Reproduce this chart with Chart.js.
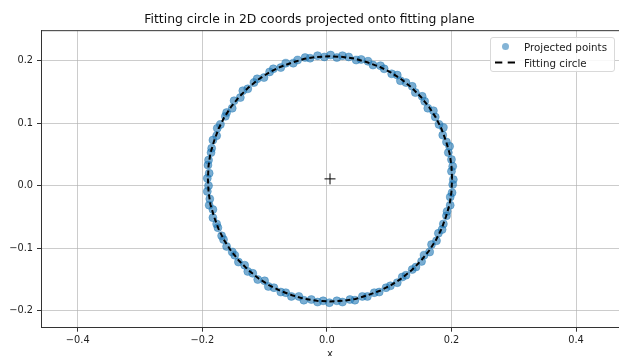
<!DOCTYPE html>
<html>
<head>
<meta charset="utf-8">
<script src="https://cdn.jsdelivr.net/npm/chart.js@4"></script>
<style>
  html, body { margin: 0; padding: 0; background: #fff; overflow: hidden; }
  #wrap { position: relative; width: 619px; height: 356px; overflow: hidden; }
  #chart { position: absolute; left: 0; top: 0; }
  .legend {
    position: absolute; left: 490px; top: 37px; width: 123px; height: 33px;
    border: 1px solid #d9d9d9; border-radius: 3px; background: rgba(255,255,255,0.85);
    font-family: "DejaVu Sans", sans-serif; font-size: 10.3px; color: #222;
  }
  .legend .dot {
    position: absolute; left: 11px; top: 5px; width: 7px; height: 7px;
    border-radius: 50%; background: rgba(31,119,180,0.55);
  }
  .legend .txt { position: absolute; left: 33px; line-height: 12px; white-space: nowrap; }
  .legend svg { position: absolute; left: 0; top: 0; }
</style>
</head>
<body>
<div id="wrap">
  <canvas id="chart" width="659" height="362"></canvas>
  <div class="legend">
    <span class="dot"></span>
    <span class="txt" style="top:3px">Projected points</span>
    <svg width="30" height="34"><line x1="4" y1="24.5" x2="24" y2="24.5" stroke="#000" stroke-width="2" stroke-dasharray="7.3 5.4"/></svg>
    <span class="txt" style="top:19px">Fitting circle</span>
  </div>
</div>
<script>
// projected points
const pointsX = [
  0.203, 0.200, 0.202, 0.200, 0.195, 0.197, 0.192, 0.186, 0.187, 0.180,
  0.174, 0.171, 0.162, 0.157, 0.153, 0.142, 0.137, 0.127, 0.118, 0.113,
  0.104, 0.092, 0.086, 0.074, 0.066, 0.055, 0.047, 0.035, 0.025, 0.016,
  0.006, -0.004, -0.015, -0.027, -0.035, -0.047, -0.054, -0.066, -0.074, -0.086,
  -0.092, -0.101, -0.112, -0.117, -0.127, -0.135, -0.139, -0.149, -0.152, -0.161,
  -0.163, -0.171, -0.176, -0.177, -0.183, -0.185, -0.186, -0.190, -0.191, -0.189,
  -0.192, -0.190, -0.192, -0.188, -0.189, -0.183, -0.183, -0.177, -0.175, -0.169,
  -0.166, -0.161, -0.152, -0.148, -0.142, -0.132, -0.127, -0.119, -0.111, -0.100,
  -0.094, -0.085, -0.074, -0.066, -0.057, -0.045, -0.037, -0.025, -0.015, -0.006,
  0.004, 0.016, 0.025, 0.037, 0.045, 0.057, 0.065, 0.076, 0.084, 0.095,
  0.102, 0.113, 0.121, 0.127, 0.137, 0.143, 0.152, 0.156, 0.165, 0.168,
  0.176, 0.179, 0.185, 0.187, 0.192, 0.193, 0.198, 0.198, 0.201, 0.202,
];
const pointsY = [
  0.010, 0.023, 0.031, 0.042, 0.053, 0.063, 0.070, 0.081, 0.093, 0.098,
  0.110, 0.120, 0.124, 0.135, 0.143, 0.149, 0.159, 0.165, 0.168, 0.177,
  0.179, 0.187, 0.192, 0.193, 0.199, 0.202, 0.201, 0.206, 0.208, 0.205,
  0.209, 0.206, 0.208, 0.204, 0.205, 0.201, 0.196, 0.196, 0.189, 0.187,
  0.182, 0.173, 0.171, 0.165, 0.155, 0.152, 0.141, 0.136, 0.124, 0.117,
  0.111, 0.098, 0.092, 0.080, 0.073, 0.060, 0.053, 0.041, 0.033, 0.020,
  0.012, 0.000, -0.009, -0.021, -0.031, -0.038, -0.051, -0.061, -0.067, -0.080,
  -0.086, -0.097, -0.106, -0.111, -0.122, -0.127, -0.137, -0.140, -0.150, -0.152,
  -0.161, -0.163, -0.170, -0.171, -0.177, -0.177, -0.183, -0.182, -0.186, -0.184,
  -0.187, -0.184, -0.186, -0.182, -0.183, -0.177, -0.177, -0.171, -0.170, -0.163,
  -0.160, -0.155, -0.146, -0.143, -0.134, -0.130, -0.121, -0.111, -0.106, -0.094,
  -0.088, -0.076, -0.070, -0.061, -0.048, -0.041, -0.031, -0.018, -0.011, 0.002,
];

// fitting circle outline
const circleX = [
  0.201, 0.200, 0.197, 0.191, 0.184, 0.175, 0.164, 0.151, 0.136, 0.120,
  0.103, 0.085, 0.066, 0.046, 0.026, 0.005, -0.016, -0.036, -0.056, -0.075,
  -0.093, -0.110, -0.126, -0.141, -0.154, -0.165, -0.174, -0.181, -0.187, -0.190,
  -0.191, -0.190, -0.187, -0.181, -0.174, -0.165, -0.154, -0.141, -0.126, -0.110,
  -0.093, -0.075, -0.056, -0.036, -0.016, 0.005, 0.026, 0.046, 0.066, 0.085,
  0.103, 0.120, 0.136, 0.151, 0.164, 0.175, 0.184, 0.191, 0.197, 0.200, 0.201,
];
const circleY = [
  0.011, 0.032, 0.052, 0.072, 0.091, 0.109, 0.126, 0.142, 0.157, 0.170,
  0.181, 0.190, 0.197, 0.203, 0.206, 0.207, 0.206, 0.203, 0.197, 0.190,
  0.181, 0.170, 0.157, 0.142, 0.126, 0.109, 0.091, 0.072, 0.052, 0.032,
  0.011, -0.010, -0.030, -0.050, -0.069, -0.087, -0.104, -0.120, -0.135, -0.148,
  -0.159, -0.168, -0.175, -0.181, -0.184, -0.185, -0.184, -0.181, -0.175, -0.168,
  -0.159, -0.148, -0.135, -0.120, -0.104, -0.087, -0.069, -0.050, -0.030, -0.010, 0.011,
];

const centerX = [0.005];
const centerY = [0.011];

const xTicks = [-0.4, -0.2, 0.0, 0.2, 0.4];
const yTicks = [-0.2, -0.1, 0.0, 0.1, 0.2];

const toPts = (xs, ys) => xs.map((x, i) => ({ x, y: ys[i] }));
const fmt = (v) => v.toFixed(1).replace("-", "\u2212");

const topSpine = {
  id: "topSpine",
  afterDraw(chart) {
    const { ctx, chartArea } = chart;
    ctx.save();
    ctx.strokeStyle = "#333";
    ctx.lineWidth = 1;
    ctx.beginPath();
    ctx.moveTo(chartArea.left, chartArea.top);
    ctx.lineTo(chartArea.right, chartArea.top);
    ctx.stroke();
    ctx.restore();
  },
};

const tickFont = { family: "DejaVu Sans", size: 9.8 };

new Chart(document.getElementById("chart"), {
  type: "scatter",
  data: {
    datasets: [
      {
        label: "Projected points",
        data: toPts(pointsX, pointsY),
        backgroundColor: "rgba(31,119,180,0.6)",
        borderColor: "rgba(31,119,180,0.4)",
        borderWidth: 1,
        pointRadius: 4,
        order: 2,
      },
      {
        type: "line",
        label: "Fitting circle",
        data: toPts(circleX, circleY),
        borderColor: "#000",
        borderWidth: 2,
        borderDash: [5, 3],
        pointRadius: 0,
        fill: false,
        tension: 0,
        order: 1,
      },
      {
        label: "center",
        data: toPts(centerX, centerY),
        pointStyle: "cross",
        pointRadius: 5.5,
        borderColor: "#000",
        borderWidth: 1,
        order: 0,
      },
    ],
  },
  options: {
    responsive: false,
    animation: false,
    events: [],
    layout: { padding: { left: 0, right: 40, top: 0, bottom: 0 } },
    plugins: {
      legend: { display: false },
      tooltip: { enabled: false },
      title: {
        display: true,
        text: "Fitting circle in 2D coords projected onto fitting plane",
        color: "#111",
        font: { family: "DejaVu Sans", size: 12.4, weight: "normal" },
        padding: { top: 12.5, bottom: 3.3 },
      },
    },
    scales: {
      x: {
        type: "linear",
        min: -0.459,
        max: 0.469,
        afterBuildTicks: (s) => { s.ticks = xTicks.map((v) => ({ value: v })); },
        afterFit: (s) => { s.height = 34.3; },
        ticks: { callback: fmt, color: "#222", font: tickFont, padding: 3, maxRotation: 0 },
        grid: { color: "rgba(176,176,176,0.65)", lineWidth: 1, tickLength: 4, tickColor: "#333" },
        border: { display: true, color: "#333", width: 1 },
        title: {
          display: true,
          text: "x",
          color: "#222",
          font: { family: "DejaVu Sans", size: 10 },
          padding: { top: 0, bottom: 2 },
        },
      },
      y: {
        type: "linear",
        min: -0.227,
        max: 0.248,
        afterBuildTicks: (s) => { s.ticks = yTicks.map((v) => ({ value: v })); },
        afterFit: (s) => { s.width = 41; },
        ticks: { callback: fmt, color: "#222", font: tickFont, padding: 4 },
        grid: { color: "rgba(176,176,176,0.65)", lineWidth: 1, tickLength: 4, tickColor: "#333" },
        border: { display: true, color: "#333", width: 1 },
      },
    },
  },
  plugins: [topSpine],
});
</script>
</body>
</html>
